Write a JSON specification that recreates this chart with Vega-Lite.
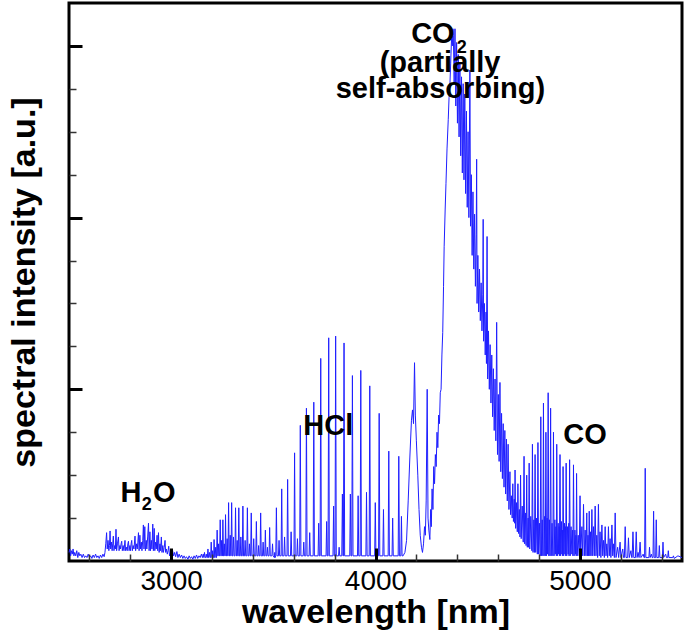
{
"$schema": "https://vega.github.io/schema/vega-lite/v6.json",
"width": 613, "height": 558,
"autosize": {"type": "none"},
"padding": {"left": 69, "top": 3, "right": 3, "bottom": 71},
"background": "white",
"config": {"view": {"stroke": "black", "strokeWidth": 3}, "font": "Liberation Sans", "axis": {"grid": false, "domain": false, "minExtent": 0}},
"datasets": {
"spec": [
{"wl":2500,"I":0.05},{"wl":2504,"I":0.07},{"wl":2508,"I":0.03},{"wl":2512,"I":0.06},{"wl":2516,"I":0.04},{"wl":2520,"I":0.07},{"wl":2524,"I":0.03},{"wl":2528,"I":0.05},{"wl":2533,"I":0.03},{"wl":2538,"I":0.06},{"wl":2543,"I":0.02},{"wl":2548,"I":0.05},{"wl":2553,"I":0.03},{"wl":2558,"I":0.04},{"wl":2564,"I":0.02},{"wl":2570,"I":0.04},{"wl":2576,"I":0.02},{"wl":2582,"I":0.03},{"wl":2588,"I":0.02},{"wl":2594,"I":0.04},{"wl":2600,"I":0.02},{"wl":2606,"I":0.03},{"wl":2612,"I":0.015},{"wl":2618,"I":0.035},{"wl":2624,"I":0.02},{"wl":2630,"I":0.04},{"wl":2636,"I":0.02},{"wl":2642,"I":0.03},{"wl":2648,"I":0.015},{"wl":2654,"I":0.035},{"wl":2660,"I":0.02},{"wl":2666,"I":0.04},{"wl":2672,"I":0.025},
{"wl":2676,"I":0.05},{"wl":2680,"I":0.10},{"wl":2684,"I":0.165},{"wl":2687,"I":0.07},{"wl":2691,"I":0.12},{"wl":2695,"I":0.06},{"wl":2698,"I":0.09},{"wl":2701,"I":0.175},{"wl":2704,"I":0.07},{"wl":2708,"I":0.11},{"wl":2711,"I":0.06},{"wl":2714,"I":0.10},{"wl":2717,"I":0.145},{"wl":2720,"I":0.06},{"wl":2724,"I":0.09},{"wl":2727,"I":0.07},{"wl":2730,"I":0.185},{"wl":2733,"I":0.06},{"wl":2737,"I":0.10},{"wl":2742,"I":0.14},{"wl":2745,"I":0.06},{"wl":2749,"I":0.09},{"wl":2752,"I":0.07},{"wl":2755,"I":0.10},{"wl":2758,"I":0.115},{"wl":2761,"I":0.06},{"wl":2765,"I":0.09},{"wl":2769,"I":0.06},{"wl":2774,"I":0.12},{"wl":2777,"I":0.06},{"wl":2781,"I":0.08},{"wl":2785,"I":0.06},{"wl":2788,"I":0.10},{"wl":2791,"I":0.115},{"wl":2794,"I":0.06},{"wl":2798,"I":0.09},{"wl":2801,"I":0.06},{"wl":2804,"I":0.10},{"wl":2807,"I":0.12},{"wl":2810,"I":0.06},{"wl":2814,"I":0.09},{"wl":2818,"I":0.07},{"wl":2823,"I":0.145},{"wl":2826,"I":0.06},{"wl":2830,"I":0.10},{"wl":2834,"I":0.07},{"wl":2837,"I":0.11},{"wl":2840,"I":0.165},{"wl":2843,"I":0.06},{"wl":2847,"I":0.15},{"wl":2850,"I":0.07},{"wl":2854,"I":0.11},{"wl":2857,"I":0.06},{"wl":2861,"I":0.12},{"wl":2864,"I":0.21},{"wl":2867,"I":0.07},{"wl":2871,"I":0.20},{"wl":2874,"I":0.06},{"wl":2878,"I":0.12},{"wl":2881,"I":0.07},{"wl":2885,"I":0.14},{"wl":2889,"I":0.22},{"wl":2892,"I":0.06},{"wl":2896,"I":0.17},{"wl":2899,"I":0.06},{"wl":2903,"I":0.12},{"wl":2906,"I":0.07},{"wl":2910,"I":0.215},{"wl":2913,"I":0.06},{"wl":2917,"I":0.19},{"wl":2920,"I":0.06},{"wl":2924,"I":0.11},{"wl":2927,"I":0.07},{"wl":2931,"I":0.15},{"wl":2934,"I":0.06},{"wl":2938,"I":0.165},{"wl":2941,"I":0.05},{"wl":2945,"I":0.10},{"wl":2948,"I":0.06},{"wl":2952,"I":0.14},{"wl":2955,"I":0.05},{"wl":2959,"I":0.09},{"wl":2962,"I":0.05},{"wl":2966,"I":0.08},{"wl":2970,"I":0.12},{"wl":2973,"I":0.05},{"wl":2977,"I":0.07},{"wl":2981,"I":0.04},{"wl":2985,"I":0.06},{"wl":2988,"I":0.086},{"wl":2992,"I":0.03},
{"wl":2997,"I":0.05},{"wl":3002,"I":0.03},{"wl":3007,"I":0.06},{"wl":3012,"I":0.03},{"wl":3017,"I":0.05},{"wl":3022,"I":0.025},{"wl":3028,"I":0.055},{"wl":3033,"I":0.02},{"wl":3039,"I":0.04},{"wl":3045,"I":0.02},{"wl":3051,"I":0.035},{"wl":3057,"I":0.015},{"wl":3063,"I":0.03},{"wl":3069,"I":0.015},{"wl":3075,"I":0.025},{"wl":3082,"I":0.01},{"wl":3088,"I":0.03},{"wl":3094,"I":0.015},{"wl":3100,"I":0.025},{"wl":3106,"I":0.01},{"wl":3112,"I":0.03},{"wl":3118,"I":0.015},{"wl":3124,"I":0.035},{"wl":3130,"I":0.015},{"wl":3136,"I":0.03},{"wl":3142,"I":0.02},{"wl":3148,"I":0.04},{"wl":3153,"I":0.02},{"wl":3157,"I":0.04},
{"wl":3160,"I":0.02},{"wl":3163,"I":0.05},{"wl":3166,"I":0.02},{"wl":3169,"I":0.02},{"wl":3172,"I":0.04},{"wl":3175,"I":0.02},{"wl":3177,"I":0.02},{"wl":3180,"I":0.07},{"wl":3183,"I":0.02},{"wl":3185,"I":0.02},{"wl":3188,"I":0.05},{"wl":3191,"I":0.02},{"wl":3193,"I":0.02},{"wl":3196,"I":0.11},{"wl":3199,"I":0.02},{"wl":3201,"I":0.02},{"wl":3203,"I":0.06},{"wl":3206,"I":0.02},{"wl":3208,"I":0.02},{"wl":3210,"I":0.125},{"wl":3213,"I":0.02},{"wl":3215,"I":0.02},{"wl":3218,"I":0.08},{"wl":3221,"I":0.02},{"wl":3222,"I":0.02},{"wl":3225,"I":0.18},{"wl":3228,"I":0.03},{"wl":3230,"I":0.03},{"wl":3232,"I":0.10},{"wl":3235,"I":0.03},{"wl":3237,"I":0.03},{"wl":3240,"I":0.24},{"wl":3243,"I":0.03},{"wl":3245,"I":0.03},{"wl":3247,"I":0.12},{"wl":3250,"I":0.03},{"wl":3251,"I":0.03},{"wl":3253,"I":0.24},{"wl":3256,"I":0.03},{"wl":3258,"I":0.03},{"wl":3260,"I":0.10},{"wl":3263,"I":0.03},{"wl":3264,"I":0.03},{"wl":3266,"I":0.27},{"wl":3269,"I":0.03},{"wl":3271,"I":0.03},{"wl":3274,"I":0.13},{"wl":3277,"I":0.03},{"wl":3278,"I":0.03},{"wl":3281,"I":0.34},{"wl":3284,"I":0.03},{"wl":3286,"I":0.03},{"wl":3289,"I":0.15},{"wl":3292,"I":0.03},{"wl":3293,"I":0.03},{"wl":3296,"I":0.34},{"wl":3299,"I":0.03},{"wl":3302,"I":0.03},{"wl":3305,"I":0.14},{"wl":3308,"I":0.03},{"wl":3312,"I":0.03},{"wl":3315,"I":0.31},{"wl":3318,"I":0.03},{"wl":3320,"I":0.03},{"wl":3323,"I":0.12},{"wl":3326,"I":0.03},{"wl":3328,"I":0.03},{"wl":3331,"I":0.31},{"wl":3334,"I":0.03},{"wl":3338,"I":0.03},{"wl":3341,"I":0.14},{"wl":3344,"I":0.03},{"wl":3348,"I":0.03},{"wl":3351,"I":0.32},{"wl":3354,"I":0.03},{"wl":3359,"I":0.03},{"wl":3362,"I":0.12},{"wl":3365,"I":0.03},{"wl":3370,"I":0.03},{"wl":3373,"I":0.31},{"wl":3376,"I":0.03},{"wl":3380,"I":0.03},{"wl":3383,"I":0.10},{"wl":3386,"I":0.03},{"wl":3389,"I":0.03},{"wl":3392,"I":0.28},{"wl":3395,"I":0.03},{"wl":3401,"I":0.03},{"wl":3404,"I":0.13},{"wl":3407,"I":0.03},{"wl":3414,"I":0.03},{"wl":3417,"I":0.23},{"wl":3420,"I":0.03},{"wl":3425,"I":0.03},{"wl":3428,"I":0.09},{"wl":3431,"I":0.03},{"wl":3435,"I":0.03},{"wl":3438,"I":0.28},{"wl":3441,"I":0.03},{"wl":3447,"I":0.03},{"wl":3450,"I":0.11},{"wl":3453,"I":0.03},{"wl":3458,"I":0.03},{"wl":3461,"I":0.18},{"wl":3464,"I":0.03},{"wl":3468,"I":0.03},{"wl":3471,"I":0.08},{"wl":3474,"I":0.03},{"wl":3479,"I":0.03},{"wl":3482,"I":0.195},{"wl":3485,"I":0.03},{"wl":3493,"I":0.03},{"wl":3496,"I":0.10},{"wl":3499,"I":0.03},{"wl":3505,"I":0.02},{"wl":3507,"I":0.05},{"wl":3509,"I":0.02},{"wl":3512,"I":0.03},{"wl":3515,"I":0.31},{"wl":3518,"I":0.03},{"wl":3525,"I":0.03},{"wl":3528,"I":0.12},{"wl":3531,"I":0.03},{"wl":3538,"I":0.03},{"wl":3541,"I":0.42},{"wl":3544,"I":0.03},{"wl":3552,"I":0.03},{"wl":3555,"I":0.14},{"wl":3558,"I":0.03},{"wl":3567,"I":0.03},{"wl":3570,"I":0.475},{"wl":3573,"I":0.03},{"wl":3584,"I":0.03},{"wl":3587,"I":0.17},{"wl":3590,"I":0.03},{"wl":3601,"I":0.03},{"wl":3604,"I":0.63},{"wl":3607,"I":0.03},{"wl":3615,"I":0.03},{"wl":3618,"I":0.13},{"wl":3621,"I":0.03},{"wl":3629,"I":0.03},{"wl":3632,"I":0.79},{"wl":3635,"I":0.03},{"wl":3646,"I":0.03},{"wl":3649,"I":0.11},{"wl":3652,"I":0.03},{"wl":3659,"I":0.03},{"wl":3662,"I":0.89},{"wl":3665,"I":0.03},{"wl":3675,"I":0.03},{"wl":3678,"I":0.165},{"wl":3681,"I":0.03},{"wl":3695,"I":0.03},{"wl":3698,"I":0.925},{"wl":3701,"I":0.03},{"wl":3719,"I":0.03},{"wl":3722,"I":0.22},{"wl":3725,"I":0.03},{"wl":3729,"I":0.03},{"wl":3732,"I":1.18},{"wl":3735,"I":0.03},{"wl":3758,"I":0.03},{"wl":3761,"I":0.23},{"wl":3764,"I":0.03},{"wl":3768,"I":0.03},{"wl":3771,"I":1.30},{"wl":3774,"I":0.03},{"wl":3792,"I":0.03},{"wl":3795,"I":0.32},{"wl":3798,"I":0.03},{"wl":3802,"I":0.03},{"wl":3805,"I":1.31},{"wl":3808,"I":0.03},{"wl":3819,"I":0.03},{"wl":3822,"I":0.08},{"wl":3825,"I":0.03},{"wl":3835,"I":0.03},{"wl":3838,"I":0.39},{"wl":3841,"I":0.03},{"wl":3843,"I":0.03},{"wl":3846,"I":1.27},{"wl":3849,"I":0.03},{"wl":3874,"I":0.03},{"wl":3877,"I":0.39},{"wl":3880,"I":0.03},{"wl":3884,"I":0.03},{"wl":3887,"I":1.08},{"wl":3890,"I":0.03},{"wl":3912,"I":0.03},{"wl":3915,"I":0.38},{"wl":3918,"I":0.03},{"wl":3925,"I":0.03},{"wl":3928,"I":1.11},{"wl":3931,"I":0.03},{"wl":3953,"I":0.03},{"wl":3956,"I":0.40},{"wl":3959,"I":0.03},{"wl":3969,"I":0.03},{"wl":3972,"I":1.02},{"wl":3975,"I":0.03},{"wl":3996,"I":0.03},{"wl":3999,"I":0.34},{"wl":4002,"I":0.03},{"wl":4015,"I":0.03},{"wl":4018,"I":0.86},{"wl":4021,"I":0.03},{"wl":4036,"I":0.03},{"wl":4039,"I":0.30},{"wl":4042,"I":0.03},{"wl":4062,"I":0.03},{"wl":4065,"I":0.64},{"wl":4068,"I":0.03},{"wl":4081,"I":0.03},{"wl":4084,"I":0.25},{"wl":4087,"I":0.03},{"wl":4111,"I":0.03},{"wl":4114,"I":0.61},{"wl":4117,"I":0.03},{"wl":4124,"I":0.03},{"wl":4127,"I":0.26},{"wl":4130,"I":0.03},
{"wl":4135,"I":0.03},{"wl":4144,"I":0.05},{"wl":4152,"I":0.12},{"wl":4160,"I":0.35},{"wl":4168,"I":0.6},{"wl":4176,"I":0.82},{"wl":4181,"I":0.88},{"wl":4186,"I":0.8},{"wl":4191,"I":1.155},{"wl":4195,"I":0.85},{"wl":4200,"I":0.7},{"wl":4207,"I":0.5},{"wl":4213,"I":0.3},{"wl":4219,"I":0.15},{"wl":4225,"I":0.08},{"wl":4230,"I":0.05},{"wl":4235,"I":0.1},{"wl":4240,"I":0.2},{"wl":4244,"I":0.15},{"wl":4248,"I":0.35},{"wl":4253,"I":1.0},{"wl":4257,"I":0.25},{"wl":4261,"I":0.18},{"wl":4266,"I":0.125},{"wl":4270,"I":0.3},{"wl":4273,"I":0.2},{"wl":4277,"I":0.42},{"wl":4281,"I":0.3},{"wl":4285,"I":0.55},{"wl":4289,"I":0.45},{"wl":4293,"I":0.62},{"wl":4297,"I":0.55},{"wl":4301,"I":0.75},{"wl":4305,"I":0.66},{"wl":4309,"I":0.85},{"wl":4313,"I":0.8},{"wl":4317,"I":0.98},{"wl":4321,"I":1.0},{"wl":4325,"I":1.2},{"wl":4329,"I":1.33},{"wl":4333,"I":1.6},{"wl":4336,"I":1.83},{"wl":4341,"I":2.05},{"wl":4345,"I":2.2},{"wl":4350,"I":2.4},{"wl":4356,"I":2.57},{"wl":4360,"I":2.7},{"wl":4364,"I":2.77},{"wl":4368,"I":2.9},{"wl":4372,"I":3.04},{"wl":4376,"I":3.0},{"wl":4379,"I":3.1},
{"wl":4381,"I":3.06},{"wl":4385,"I":2.78},{"wl":4389,"I":3.1},{"wl":4393,"I":2.65},{"wl":4397,"I":3.02},{"wl":4401,"I":2.55},{"wl":4405,"I":2.95},{"wl":4409,"I":2.47},{"wl":4413,"I":2.9},{"wl":4417,"I":2.36},{"wl":4421,"I":2.82},{"wl":4425,"I":2.26},{"wl":4429,"I":2.78},{"wl":4433,"I":2.22},{"wl":4437,"I":2.72},{"wl":4441,"I":2.14},{"wl":4445,"I":2.62},{"wl":4449,"I":2.06},{"wl":4453,"I":2.5},{"wl":4457,"I":2.0},{"wl":4462,"I":2.86},{"wl":4465,"I":1.95},{"wl":4469,"I":2.25},{"wl":4473,"I":1.78},{"wl":4477,"I":2.15},{"wl":4481,"I":1.7},{"wl":4485,"I":2.02},{"wl":4489,"I":1.6},{"wl":4493,"I":1.9},{"wl":4495,"I":2.34},{"wl":4497,"I":1.5},{"wl":4501,"I":1.78},{"wl":4505,"I":1.45},{"wl":4509,"I":1.7},{"wl":4513,"I":1.4},{"wl":4517,"I":1.62},{"wl":4521,"I":1.34},{"wl":4525,"I":1.55},{"wl":4527,"I":1.99},{"wl":4529,"I":1.28},{"wl":4533,"I":1.5},{"wl":4537,"I":1.2},{"wl":4541,"I":1.45},{"wl":4543,"I":1.15},{"wl":4546,"I":1.89},{"wl":4549,"I":1.06},{"wl":4553,"I":1.34},{"wl":4557,"I":1.0},{"wl":4561,"I":1.26},{"wl":4565,"I":0.92},{"wl":4569,"I":1.2},{"wl":4573,"I":0.84},{"wl":4577,"I":1.12},{"wl":4581,"I":0.76},{"wl":4585,"I":1.06},{"wl":4589,"I":0.7},{"wl":4593,"I":1.39},{"wl":4597,"I":0.62},{"wl":4601,"I":0.97},{"wl":4605,"I":0.58},{"wl":4609,"I":1.04},{"wl":4613,"I":0.52},{"wl":4617,"I":0.86},{"wl":4621,"I":0.48},{"wl":4625,"I":0.8},{"wl":4629,"I":0.43},{"wl":4633,"I":0.76},{"wl":4637,"I":0.39},{"wl":4641,"I":0.71},{"wl":4645,"I":0.35},{"wl":4649,"I":0.68},{"wl":4653,"I":0.3},
{"wl":4658,"I":0.52},{"wl":4661,"I":0.27},{"wl":4665,"I":0.38},{"wl":4669,"I":0.25},{"wl":4672,"I":0.45},{"wl":4675,"I":0.23},{"wl":4679,"I":0.36},{"wl":4681,"I":0.22},{"wl":4683,"I":0.53},{"wl":4686,"I":0.19},{"wl":4690,"I":0.34},{"wl":4694,"I":0.17},{"wl":4697,"I":0.45},{"wl":4700,"I":0.16},{"wl":4704,"I":0.3},{"wl":4707,"I":0.14},{"wl":4710,"I":0.5},{"wl":4713,"I":0.13},{"wl":4718,"I":0.32},{"wl":4723,"I":0.11},{"wl":4727,"I":0.61},{"wl":4730,"I":0.1},{"wl":4735,"I":0.28},{"wl":4737,"I":0.09},{"wl":4740,"I":0.5},{"wl":4743,"I":0.08},{"wl":4747,"I":0.25},{"wl":4749,"I":0.08},{"wl":4752,"I":0.57},{"wl":4755,"I":0.07},{"wl":4760,"I":0.26},{"wl":4765,"I":0.06},{"wl":4768,"I":0.68},{"wl":4771,"I":0.05},{"wl":4775,"I":0.24},{"wl":4778,"I":0.05},{"wl":4781,"I":0.62},{"wl":4784,"I":0.05},{"wl":4788,"I":0.25},{"wl":4792,"I":0.04},{"wl":4795,"I":0.69},{"wl":4798,"I":0.04},{"wl":4802,"I":0.22},{"wl":4806,"I":0.03},{"wl":4809,"I":0.84},{"wl":4812,"I":0.03},{"wl":4816,"I":0.24},{"wl":4819,"I":0.03},{"wl":4822,"I":0.92},{"wl":4825,"I":0.03},{"wl":4828,"I":0.26},{"wl":4831,"I":0.03},{"wl":4834,"I":0.75},{"wl":4837,"I":0.03},{"wl":4840,"I":0.25},{"wl":4842,"I":0.04},{"wl":4845,"I":0.98},{"wl":4848,"I":0.03},{"wl":4851,"I":0.24},{"wl":4854,"I":0.03},{"wl":4857,"I":0.89},{"wl":4860,"I":0.03},{"wl":4864,"I":0.22},{"wl":4868,"I":0.03},{"wl":4871,"I":0.75},{"wl":4874,"I":0.03},{"wl":4878,"I":0.24},{"wl":4880,"I":0.04},{"wl":4883,"I":0.2},{"wl":4885,"I":0.03},{"wl":4887,"I":0.68},{"wl":4890,"I":0.03},{"wl":4894,"I":0.22},{"wl":4896,"I":0.04},{"wl":4899,"I":0.2},{"wl":4900,"I":0.03},{"wl":4903,"I":0.62},{"wl":4906,"I":0.03},{"wl":4910,"I":0.23},{"wl":4912,"I":0.04},{"wl":4915,"I":0.18},{"wl":4916,"I":0.03},{"wl":4918,"I":0.55},{"wl":4921,"I":0.03},{"wl":4925,"I":0.22},{"wl":4927,"I":0.04},{"wl":4930,"I":0.2},{"wl":4931,"I":0.03},{"wl":4933,"I":0.57},{"wl":4936,"I":0.03},{"wl":4940,"I":0.2},{"wl":4943,"I":0.04},{"wl":4946,"I":0.22},{"wl":4947,"I":0.03},{"wl":4950,"I":0.59},{"wl":4953,"I":0.03},{"wl":4957,"I":0.2},{"wl":4961,"I":0.04},{"wl":4965,"I":0.18},{"wl":4966,"I":0.03},{"wl":4969,"I":0.56},{"wl":4972,"I":0.03},{"wl":4976,"I":0.18},{"wl":4979,"I":0.04},{"wl":4981,"I":0.15},{"wl":4982,"I":0.03},{"wl":4984,"I":0.51},{"wl":4987,"I":0.03},{"wl":4992,"I":0.15},{"wl":4997,"I":0.03},{"wl":5001,"I":0.38},{"wl":5004,"I":0.03},
{"wl":5010,"I":0.2},{"wl":5014,"I":0.03},{"wl":5018,"I":0.33},{"wl":5022,"I":0.03},{"wl":5026,"I":0.18},{"wl":5030,"I":0.03},{"wl":5034,"I":0.28},{"wl":5037,"I":0.03},{"wl":5040,"I":0.15},{"wl":5043,"I":0.03},{"wl":5046,"I":0.29},{"wl":5049,"I":0.03},{"wl":5052,"I":0.17},{"wl":5055,"I":0.03},{"wl":5059,"I":0.30},{"wl":5063,"I":0.03},{"wl":5067,"I":0.2},{"wl":5071,"I":0.03},{"wl":5075,"I":0.32},{"wl":5079,"I":0.03},{"wl":5083,"I":0.15},{"wl":5087,"I":0.02},{"wl":5091,"I":0.33},{"wl":5095,"I":0.03},{"wl":5099,"I":0.17},{"wl":5103,"I":0.02},{"wl":5108,"I":0.21},{"wl":5112,"I":0.03},{"wl":5116,"I":0.12},{"wl":5120,"I":0.02},{"wl":5124,"I":0.2},{"wl":5128,"I":0.03},{"wl":5132,"I":0.1},{"wl":5136,"I":0.02},{"wl":5140,"I":0.2},{"wl":5144,"I":0.03},{"wl":5148,"I":0.13},{"wl":5152,"I":0.02},{"wl":5157,"I":0.21},{"wl":5161,"I":0.03},{"wl":5165,"I":0.1},{"wl":5169,"I":0.02},{"wl":5173,"I":0.28},{"wl":5177,"I":0.02},{"wl":5185,"I":0.08},{"wl":5190,"I":0.02},{"wl":5197,"I":0.11},{"wl":5201,"I":0.02},{"wl":5210,"I":0.07},{"wl":5214,"I":0.02},{"wl":5218,"I":0.02},{"wl":5222,"I":0.2},{"wl":5226,"I":0.02},{"wl":5234,"I":0.02},{"wl":5238,"I":0.135},{"wl":5242,"I":0.02},{"wl":5250,"I":0.06},{"wl":5254,"I":0.02},{"wl":5256,"I":0.02},{"wl":5260,"I":0.17},{"wl":5264,"I":0.02},{"wl":5272,"I":0.02},{"wl":5276,"I":0.17},{"wl":5280,"I":0.02},{"wl":5285,"I":0.05},{"wl":5290,"I":0.02},{"wl":5295,"I":0.11},{"wl":5299,"I":0.02},{"wl":5310,"I":0.04},{"wl":5314,"I":0.02},{"wl":5317,"I":0.02},{"wl":5320,"I":0.54},{"wl":5323,"I":0.02},{"wl":5338,"I":0.02},{"wl":5341,"I":0.08},{"wl":5344,"I":0.02},{"wl":5350,"I":0.04},{"wl":5354,"I":0.02},{"wl":5358,"I":0.02},{"wl":5361,"I":0.29},{"wl":5364,"I":0.02},{"wl":5371,"I":0.02},{"wl":5374,"I":0.24},{"wl":5377,"I":0.02},{"wl":5386,"I":0.02},{"wl":5389,"I":0.09},{"wl":5392,"I":0.02},{"wl":5404,"I":0.02},{"wl":5407,"I":0.11},{"wl":5410,"I":0.02},{"wl":5420,"I":0.04},{"wl":5424,"I":0.02},{"wl":5430,"I":0.02},{"wl":5433,"I":0.06},{"wl":5436,"I":0.02},{"wl":5455,"I":0.02},{"wl":5458,"I":0.03},{"wl":5462,"I":0.015},{"wl":5480,"I":0.03},{"wl":5500,"I":0.02}
],
"big": [
{"wl":4281,"I":3.015,"label":"CO"},
{"wl":4316,"I":2.85,"label":"(partially"},
{"wl":4318,"I":2.695,"label":"self-absorbing)"},
{"wl":3769,"I":0.734,"label":"HCl"},
{"wl":5025,"I":0.681,"label":"CO"},
{"wl":2803,"I":0.345,"label":"H"},
{"wl":2966,"I":0.345,"label":"O"}
],
"sub": [
{"wl":4422,"I":2.957,"label":"2"},
{"wl":2880,"I":0.297,"label":"2"}
]
},
"layer": [
{"data": {"name": "spec"},
 "mark": {"type": "line", "color": "#1f1fff", "strokeWidth": 1, "interpolate": "linear"},
 "encoding": {
  "x": {"field": "wl", "type": "quantitative", "scale": {"domain": [2500, 5500], "nice": false, "zero": false},
        "axis": {"orient": "bottom", "values": [3000, 4000, 5000], "format": "d", "ticks": false, "labelFont": "Liberation Sans", "labelFontSize": 28, "labelColor": "black", "labelPadding": 6, "title": "wavelength [nm]", "titleFont": "Liberation Sans", "titleFontSize": 34, "titleFontWeight": "bold", "titleColor": "black", "titlePadding": 0}},
  "y": {"field": "I", "type": "quantitative", "scale": {"domain": [0, 3.25], "nice": false, "zero": false},
        "axis": {"orient": "left", "labels": false, "ticks": false, "title": "spectral intensity [a.u.]", "titleFont": "Liberation Sans", "titleFontSize": 34, "titleFontWeight": "bold", "titleColor": "black", "titlePadding": 28}}
 }},
{"data": {"name": "big"},
 "mark": {"type": "text", "font": "Liberation Sans", "fontWeight": "bold", "fontSize": 29, "align": "center", "baseline": "alphabetic", "color": "black"},
 "encoding": {
  "x": {"field": "wl", "type": "quantitative", "scale": {"domain": [2500, 5500], "nice": false, "zero": false},
        "axis": {"orient": "bottom", "values": [3000, 4000, 5000], "labels": false, "ticks": true, "tickSize": -13, "tickWidth": 3, "tickColor": "black", "title": null, "zindex": 1}},
  "y": {"field": "I", "type": "quantitative", "scale": {"domain": [0, 3.25], "nice": false, "zero": false},
        "axis": {"orient": "left", "values": [1, 2, 3], "labels": false, "ticks": true, "tickSize": -13, "tickWidth": 3, "tickColor": "black", "title": null, "zindex": 1}},
  "text": {"field": "label"}
 }},
{"data": {"name": "sub"},
 "mark": {"type": "text", "font": "Liberation Sans", "fontWeight": "bold", "fontSize": 18, "align": "center", "baseline": "alphabetic", "color": "black"},
 "encoding": {
  "x": {"field": "wl", "type": "quantitative", "scale": {"domain": [2500, 5500], "nice": false, "zero": false},
        "axis": {"orient": "bottom", "values": [2600, 2800, 3200, 3400, 3600, 3800, 4200, 4400, 4600, 4800, 5200, 5400], "labels": false, "ticks": true, "tickSize": -7, "tickWidth": 1.5, "tickColor": "#333333", "title": null, "zindex": 1}},
  "y": {"field": "I", "type": "quantitative", "scale": {"domain": [0, 3.25], "nice": false, "zero": false},
        "axis": {"orient": "left", "values": [0.25, 0.5, 0.75, 1.25, 1.5, 1.75, 2.25, 2.5, 2.75], "labels": false, "ticks": true, "tickSize": -7, "tickWidth": 1.5, "tickColor": "#333333", "title": null, "zindex": 1}},
  "text": {"field": "label"}
 }}
],
"resolve": {"axis": {"x": "independent", "y": "independent"}}
}
